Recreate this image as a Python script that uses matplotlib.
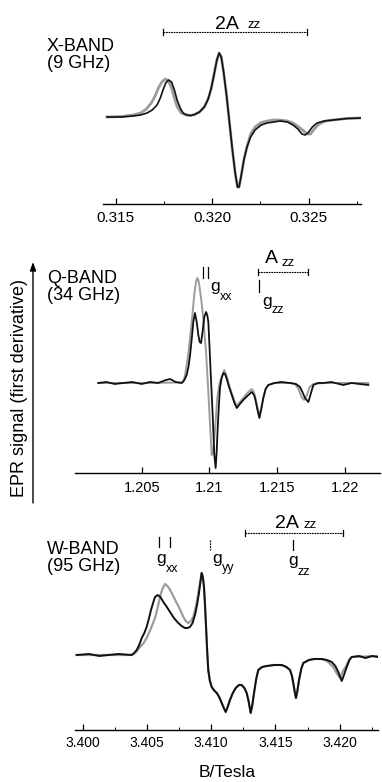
import matplotlib
matplotlib.use("Agg")
import matplotlib.pyplot as plt
from matplotlib.lines import Line2D
from matplotlib.patches import FancyArrowPatch
from matplotlib.ticker import MultipleLocator, FixedLocator, FuncFormatter

plt.rcParams['font.family'] = ['Liberation Sans', 'DejaVu Sans']

W, H = 382, 782

# ---- X-band (9 GHz): field in tesla, signal in arbitrary units ----
x_field_exp = [0.31456, 0.31530, 0.31591, 0.31630, 0.31663, 0.31690, 0.31715, 0.31732,
               0.31746, 0.31760, 0.31775, 0.31790, 0.31805, 0.31819, 0.31835, 0.31850,
               0.31870, 0.31890, 0.31910, 0.31935, 0.31960, 0.31980, 0.31995, 0.32010,
               0.32025, 0.32037, 0.32048, 0.32060, 0.32075, 0.32090, 0.32105, 0.32120,
               0.32132, 0.32140, 0.32150, 0.32165, 0.32181, 0.32200, 0.32223, 0.32255,
               0.32285, 0.32320, 0.32352, 0.32390, 0.32420, 0.32445, 0.32466, 0.32482,
               0.32497, 0.32520, 0.32544, 0.32580, 0.32627, 0.32700, 0.32770]
x_sig_exp = [0, 0, 1, 2, 4, 7, 12, 19,
             27, 34, 37, 35, 27, 17, 9, 4,
             2, 1.5, 2.5, 5, 10, 18, 28, 42,
             57, 64, 60, 45, 22, -5, -32, -56,
             -70, -70, -60, -43, -30, -20, -13, -8,
             -6, -5, -4, -5, -8, -12, -17, -18,
             -16, -10, -6, -4, -3, -1.5, -1]
x_field_sim = [0.31456, 0.31530, 0.31591, 0.31630, 0.31660, 0.31685, 0.31705, 0.31722,
               0.31740, 0.31758, 0.31775, 0.31790, 0.31805, 0.31820, 0.31840, 0.31865,
               0.31890, 0.31910, 0.31935, 0.31960, 0.31980, 0.31995, 0.32010, 0.32025,
               0.32037, 0.32048, 0.32060, 0.32075, 0.32090, 0.32105, 0.32120, 0.32132,
               0.32140, 0.32150, 0.32165, 0.32181, 0.32200, 0.32223, 0.32255, 0.32285,
               0.32320, 0.32352, 0.32390, 0.32420, 0.32450, 0.32475, 0.32495, 0.32510,
               0.32530, 0.32555, 0.32590, 0.32627, 0.32700, 0.32770]
x_sig_sim = [0, 0.5, 2, 4, 8, 14, 21, 29,
             35, 38, 36, 29, 19, 10, 4, 2,
             1.5, 2.5, 5, 10, 18, 28, 42, 57,
             64, 60, 45, 22, -5, -32, -56, -70,
             -70, -60, -43, -30, -17, -10, -5.5, -4,
             -3, -3, -4, -6, -10, -14, -17, -17,
             -12, -7, -4, -3, -1.5, -1]

# ---- Q-band (34 GHz) ----
q_field_exp = [1.20179, 1.20240, 1.20300, 1.20364, 1.20430, 1.20500, 1.20561, 1.20620,
               1.20680, 1.20709, 1.20750, 1.20795, 1.20815, 1.20832, 1.20845, 1.20857,
               1.20870, 1.20881, 1.20893, 1.20905, 1.20918, 1.20928, 1.20938, 1.20950,
               1.20962, 1.20975, 1.20984, 1.20992, 1.21000, 1.21009, 1.21017, 1.21024,
               1.21030, 1.21036, 1.21046, 1.21053, 1.21061, 1.21070, 1.21078, 1.21090,
               1.21103, 1.21115, 1.21128, 1.21145, 1.21165, 1.21185, 1.21202, 1.21225,
               1.21250, 1.21280, 1.21312, 1.21325, 1.21337, 1.21352, 1.21369, 1.21383,
               1.21398, 1.21415, 1.21435, 1.21480, 1.21530, 1.21595, 1.21640, 1.21669,
               1.21690, 1.21706, 1.21731, 1.21750, 1.21768, 1.21800, 1.21842, 1.21900,
               1.21989, 1.22050, 1.22110, 1.22174]
q_sig_exp = [0, 1, -1, 0, 1, -1, 1, 0,
             3, 4, 1, 0, 3, 8, 16, 28,
             45, 61, 70, 62, 48, 41, 40, 52,
             66, 71, 68, 61, 38, 11, -12, -32,
             -52, -72, -85, -70, -45, -22, -5, 5,
             10, 9, 4, -4, -12, -20, -25, -21,
             -17, -13, -9, -11, -15, -25, -35, -26,
             -15, -6, -2, 0, 1, 0, -1, -4,
             -10, -15, -19, -10, -2, 0, 0, 1,
             -2, 0, -1, -2]
q_field_sim = [1.20179, 1.20500, 1.20795, 1.20807, 1.20820, 1.20832, 1.20845, 1.20857,
               1.20870, 1.20881, 1.20891, 1.20901, 1.20910, 1.20918, 1.20925, 1.20937,
               1.20950, 1.20962, 1.20975, 1.20986, 1.20997, 1.21007, 1.21017, 1.21025,
               1.21034, 1.21046, 1.21058, 1.21075, 1.21091, 1.21110, 1.21128, 1.21145,
               1.21165, 1.21185, 1.21202, 1.21225, 1.21250, 1.21280, 1.21312, 1.21325,
               1.21337, 1.21352, 1.21369, 1.21383, 1.21398, 1.21415, 1.21435, 1.21480,
               1.21595, 1.21630, 1.21655, 1.21680, 1.21700, 1.21720, 1.21740, 1.21768,
               1.21842, 1.22174]
q_sig_sim = [0, 0, 0.5, 1, 8, 18, 30, 45,
             62, 78, 92, 101, 105, 103, 98, 86,
             71, 52, 31, 5, -22, -48, -72, -70,
             -59, -38, -15, 0, 6, 13, 7, -2,
             -10, -18, -23, -19, -15, -10, -6, -8,
             -13, -23, -33, -25, -15, -6, -2, 0,
             0, -1, -5, -14, -17, -12, -4, -1,
             0, 0]

# ---- W-band (95 GHz) ----
w_field_exp = [3.39954, 3.40050, 3.40130, 3.40200, 3.40280, 3.40382, 3.40400, 3.40421,
               3.40440, 3.40460, 3.40480, 3.40498, 3.40515, 3.40532, 3.40548, 3.40563,
               3.40584, 3.40605, 3.40628, 3.40655, 3.40680, 3.40710, 3.40744, 3.40770,
               3.40796, 3.40815, 3.40835, 3.40855, 3.40874, 3.40890, 3.40905, 3.40916,
               3.40926, 3.40935, 3.40944, 3.40952, 3.40960, 3.40968, 3.40977, 3.40990,
               3.41004, 3.41020, 3.41043, 3.41062, 3.41082, 3.41098, 3.41113, 3.41128,
               3.41146, 3.41168, 3.41191, 3.41215, 3.41237, 3.41258, 3.41276, 3.41292,
               3.41307, 3.41320, 3.41333, 3.41350, 3.41366, 3.41395, 3.41432, 3.41490,
               3.41548, 3.41585, 3.41613, 3.41628, 3.41638, 3.41650, 3.41659, 3.41670,
               3.41683, 3.41700, 3.41716, 3.41760, 3.41800, 3.41859, 3.41900, 3.41937,
               3.41965, 3.41988, 3.42003, 3.42015, 3.42035, 3.42054, 3.42075, 3.42093,
               3.42150, 3.42200, 3.42250, 3.42297]
w_sig_exp = [0, 1, -1, 0, 1, 0, 2, 5,
             10, 17, 22, 28, 36, 45, 52, 58,
             60, 58, 53, 48, 43, 37, 32, 29,
             27, 27, 28, 32, 40, 50, 62, 73,
             82, 78, 68, 50, 28, 6, -15, -26,
             -32, -35, -38, -42, -48, -53, -57, -52,
             -45, -38, -33, -30, -30, -33, -38, -47,
             -58, -50, -38, -24, -15, -12, -11, -10,
             -10, -12, -15, -21, -28, -37, -43, -36,
             -25, -14, -8, -5, -4, -4, -5, -7,
             -11, -17, -22, -26, -19, -12, -5, -2,
             -1, -3, -1, -2]
w_field_sim = [3.39954, 3.40382, 3.40410, 3.40446, 3.40475, 3.40498, 3.40530, 3.40563,
               3.40585, 3.40602, 3.40620, 3.40641, 3.40660, 3.40680, 3.40705, 3.40732,
               3.40760, 3.40783, 3.40803, 3.40822, 3.40842, 3.40861, 3.40880, 3.40900,
               3.40913, 3.40926, 3.40935, 3.40944, 3.40952, 3.40960, 3.40968, 3.40977,
               3.40990, 3.41004, 3.41020, 3.41043, 3.41062, 3.41082, 3.41098, 3.41113,
               3.41128, 3.41146, 3.41168, 3.41191, 3.41215, 3.41237, 3.41258, 3.41276,
               3.41292, 3.41307, 3.41320, 3.41333, 3.41350, 3.41366, 3.41395, 3.41432,
               3.41490, 3.41548, 3.41585, 3.41613, 3.41628, 3.41638, 3.41650, 3.41659,
               3.41670, 3.41683, 3.41700, 3.41716, 3.41760, 3.41800, 3.41859, 3.41900,
               3.41949, 3.41975, 3.42002, 3.42025, 3.42054, 3.42075, 3.42093, 3.42297]
w_sig_sim = [0, 0, 2, 8, 12, 17, 26, 37,
             48, 58, 66, 71, 69, 65, 59, 52,
             45, 38, 34, 32, 34, 38, 48, 62,
             72, 82, 78, 68, 50, 28, 6, -15,
             -26, -32, -35, -38, -42, -48, -53, -57,
             -52, -45, -38, -33, -30, -30, -33, -38,
             -47, -58, -50, -38, -24, -15, -12, -11,
             -10, -10, -12, -15, -21, -28, -37, -43,
             -36, -25, -14, -8, -5, -4, -4, -6,
             -12, -18, -23, -16, -10, -4, -2, -1]

EXP_COLOR = '#111111'
SIM_COLOR = '#9c9c9c'

fig = plt.figure(figsize=(W / 100, H / 100), dpi=100)


def panel(left, right, top, bottom):
    ax = fig.add_axes([left / W, 1 - bottom / H, (right - left) / W, (bottom - top) / H])
    for side in ('top', 'left', 'right'):
        ax.spines[side].set_visible(False)
    ax.spines['bottom'].set_linewidth(1.0)
    ax.set_yticks([])
    ax.patch.set_alpha(0)
    ax.tick_params(axis='x', which='major', direction='in', length=4, width=0.9)
    ax.tick_params(axis='x', which='minor', direction='in', length=2, width=0.7)
    return ax


def ftext(x, y, s, size, **kw):
    fig.text(x / W, 1 - y / H, s, fontsize=size, ha=kw.pop('ha', 'left'),
             va=kw.pop('va', 'baseline'), **kw)


def fline(x0, y0, x1, y1, lw=0.9, **kw):
    fig.add_artist(Line2D([x0 / W, x1 / W], [1 - y0 / H, 1 - y1 / H],
                          transform=fig.transFigure, color='k', lw=lw, **kw))


def span(x0, x1, y):
    fline(x0, y, x1, y, lw=0.8, ls=(0, (1.6, 0.7)))
    for xx in (x0, x1):
        fline(xx, y - 3, xx, y + 3, lw=0.9)


def label_g(x, y, sub, ysub):
    ftext(x, y, 'g', 12.5)
    ftext(x + 10, ysub, sub, 9)


def band_label(y_top, lines):
    ftext(47, y_top, lines, 13, va='top', linespacing=1.0)


# X-band panel
ax1 = panel(103, 361, 20, 204)
ax1.plot(x_field_sim, x_sig_sim, color=SIM_COLOR, lw=2.0, solid_joinstyle='round')
ax1.plot(x_field_exp, x_sig_exp, color=EXP_COLOR, lw=1.2, solid_joinstyle='round')
ax1.set_xlim(0.31435, 0.32772)
ax1.set_ylim(-87, 97)
ax1.xaxis.set_major_locator(FixedLocator([0.315, 0.320, 0.325]))
ax1.xaxis.set_minor_locator(MultipleLocator(0.0025))
ax1.xaxis.set_major_formatter(FuncFormatter(lambda v, p: f'{v:.3f}'))
ax1.tick_params(axis='x', labelsize=11, pad=5)

band_label(38, 'X-BAND\n(9 GHz)')
ftext(215, 29, '2A', 14)
ftext(247, 28, 'zz', 9.5)
span(163, 307, 32)

# Q-band panel
ax2 = panel(75, 380, 255, 473)
ax2.plot(q_field_sim, q_sig_sim, color=SIM_COLOR, lw=1.4, solid_joinstyle='round')
ax2.plot(q_field_exp, q_sig_exp, color=EXP_COLOR, lw=1.3, solid_joinstyle='round')
ax2.set_xlim(1.20007, 1.22260)
ax2.set_ylim(-90, 128)
ax2.xaxis.set_major_locator(FixedLocator([1.205, 1.21, 1.215, 1.22]))
ax2.xaxis.set_major_formatter(FuncFormatter(lambda v, p: f'{v:g}'))
ax2.tick_params(axis='x', labelsize=10.5, pad=6)

band_label(270, 'Q-BAND\n(34 GHz)')
fline(203.3, 266.7, 203.3, 278)
fline(208.3, 266.7, 208.3, 278)
label_g(210, 291.5, 'xx', 300)
ftext(265, 263, 'A', 14)
ftext(282, 266, 'zz', 9.5)
span(258, 308, 272)
fline(259, 280, 259, 292)
label_g(262, 306, 'zz', 313)

# W-band panel
ax3 = panel(75, 378, 510, 730)
ax3.plot(w_field_sim, w_sig_sim, color=SIM_COLOR, lw=1.6, solid_joinstyle='round')
ax3.plot(w_field_exp, w_sig_exp, color=EXP_COLOR, lw=1.4, solid_joinstyle='round')
ax3.set_xlim(3.39941, 3.42297)
ax3.set_ylim(-75, 145)
ax3.xaxis.set_major_locator(FixedLocator([3.400, 3.405, 3.410, 3.415, 3.420]))
ax3.xaxis.set_minor_locator(MultipleLocator(0.0025))
ax3.xaxis.set_major_formatter(FuncFormatter(lambda v, p: f'{v:.3f}'))
ax3.tick_params(axis='x', labelsize=10, pad=4.5)
for lab in ax3.get_xticklabels():
    lab.set_family(['Liberation Sans Narrow', 'Liberation Sans'])

band_label(541, 'W-BAND\n(95 GHz)')
fline(159, 537, 159, 547)
fline(170, 537, 170, 547)
label_g(156, 563.5, 'xx', 572)
fline(210, 540, 210, 550, ls=(0, (1.5, 0.8)))
label_g(212, 563.5, 'yy', 571)
ftext(275, 528, '2A', 14)
ftext(304, 528, 'zz', 9.5)
span(245, 343, 533)
fline(293, 540, 293, 550)
label_g(288, 565.5, 'zz', 575)

ftext(227, 777, 'B/Tesla', 12.5, ha='center')

# shared y-axis label with arrow
fig.add_artist(FancyArrowPatch((33 / W, 1 - 503 / H), (33 / W, 1 - 262 / H),
                               transform=fig.transFigure, color='k', lw=1.0,
                               arrowstyle='-|>,head_length=0.5,head_width=0.18',
                               mutation_scale=10, shrinkA=0, shrinkB=0))
ftext(20, 388, 'EPR signal (first derivative)', 13, rotation=90,
      ha='center', va='center')

fig.savefig('out.png', dpi=100)
